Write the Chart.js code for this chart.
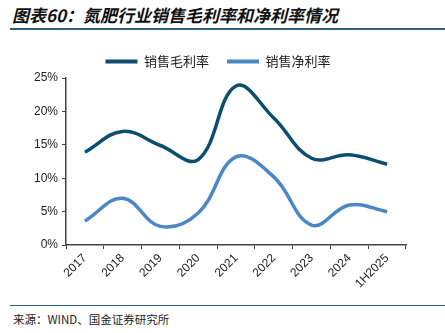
<!DOCTYPE html>
<html>
<head>
<meta charset="utf-8">
<script src="https://cdn.jsdelivr.net/npm/chart.js@4/dist/chart.umd.min.js"></script>
<style>
  body { margin: 0; width: 445px; height: 333px; background: #fff; font-family: "Noto Sans CJK SC", sans-serif; overflow: hidden; }
  #title { position: absolute; left: 12px; top: 2px; font-size: 17px; font-weight: bold; font-style: italic; color: #111; }
  #rule1 { position: absolute; left: 10px; top: 28px; width: 435px; height: 2px; background: #2d5f80; }
  #wrap { position: absolute; left: 0; top: 37px; width: 445px; height: 256px; }
  #rule2 { position: absolute; left: 10px; top: 305px; width: 435px; height: 1px; background: #2d5f80; }
  #source { position: absolute; left: 13px; top: 311px; font-size: 11.5px; color: #222; }
</style>
</head>
<body>
<div id="title">图表60：氮肥行业销售毛利率和净利率情况</div>
<div id="rule1"></div>
<div id="wrap"><canvas id="grafica"></canvas></div>
<div id="rule2"></div>
<div id="source">来源：WIND、国金证券研究所</div>
<script>
const categorias = ['2017', '2018', '2019', '2020', '2021', '2022', '2023', '2024', '1H2025'];
const margenBruto = [13.9, 17.0, 14.9, 12.8, 23.8, 19.0, 13.0, 13.5, 12.1];
const margenNeto = [3.6, 7.0, 2.8, 4.8, 13.2, 10.2, 3.0, 6.0, 5.0];
const ticksY = [0, 5, 10, 15, 20, 25];

const ctx = document.getElementById('grafica').getContext('2d');

const grafica = new Chart(ctx, {
    type: 'line',
    data: {
        labels: categorias,
        datasets: [{
            label: '销售毛利率',
            data: margenBruto,
            borderColor: '#0c4d70',
            backgroundColor: '#0c4d70',
            borderWidth: 3.5,
            pointRadius: 0,
            tension: 0.4
        }, {
            label: '销售净利率',
            data: margenNeto,
            borderColor: '#4a87c6',
            backgroundColor: '#4a87c6',
            borderWidth: 3.5,
            pointRadius: 0,
            tension: 0.4
        }]
    },
    options: {
        responsive: true,
        maintainAspectRatio: false,
        animation: false,
        layout: { padding: { left: 30, right: 39, top: 0, bottom: 0 } },
        scales: {
            y: {
                min: 0,
                max: 25,
                afterBuildTicks: (axis) => { axis.ticks = ticksY.map(v => ({ value: v })); },
                ticks: {
                    color: '#222',
                    font: { family: 'Liberation Sans', size: 12 },
                    padding: 4,
                    callback: v => v + '%'
                },
                border: { color: '#444', width: 1.5 },
                grid: { drawOnChartArea: false, drawTicks: true, tickLength: 4, color: '#444' }
            },
            x: {
                offset: true,
                ticks: {
                    color: '#222',
                    font: { family: 'Liberation Sans', size: 12 },
                    minRotation: 45,
                    maxRotation: 45,
                    padding: 2
                },
                border: { color: '#444', width: 1.5 },
                grid: { offset: true, drawOnChartArea: false, drawTicks: true, tickLength: 4, color: '#444' }
            }
        },
        plugins: {
            legend: {
                display: true,
                afterFit: function () { this.height += 3; },
                labels: {
                    color: '#222',
                    font: { family: 'Noto Sans CJK SC', size: 13 },
                    boxWidth: 32,
                    boxHeight: 4,
                    padding: 18,
                    generateLabels: (chart) => Chart.defaults.plugins.legend.labels.generateLabels(chart)
                        .map(l => Object.assign(l, { lineWidth: 0 }))
                }
            },
            title: { display: false },
            tooltip: { enabled: false }
        }
    }
});
</script>
</body>
</html>
